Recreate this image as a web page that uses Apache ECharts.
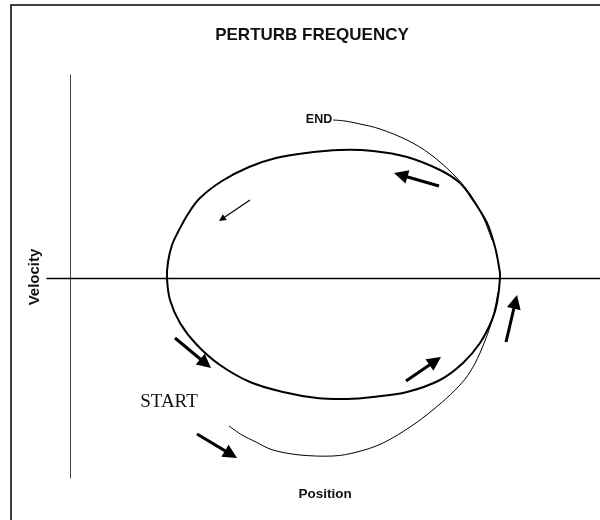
<!DOCTYPE html>
<html>
<head>
<meta charset="utf-8">
<title>Perturb Frequency</title>
<script src="https://cdn.jsdelivr.net/npm/echarts@6/dist/echarts.min.js"></script>
<style>
  html, body { margin: 0; padding: 0; background: #fff; }
  #main { width: 600px; height: 520px; }
</style>
</head>
<body>
<div id="main"></div>
<script>
// phase plane data, [position, velocity]
// closed orbit (drawn as a closed smooth curve, so no repeated last point)
var orbit = [
  [43.0, 0], [42.9, 1.1], [42.5, 3.1], [41.7, 5.5], [40.3, 7.8], [39.0, 9.5],
  [37.0, 10.8], [33.7, 12.1], [30.3, 12.7], [27.0, 12.8], [23.6, 12.5], [20.6, 12.0],
  [17.9, 11.1], [15.2, 9.7], [13.0, 8.0], [11.8, 6.4], [10.8, 4.6], [10.2, 3.3],
  [9.8, 1.6], [9.7, 0], [10.0, -2.2], [11.0, -4.5], [12.7, -6.7], [15.0, -8.7],
  [18.0, -10.4], [21.3, -11.4], [24.7, -12.0], [27.7, -12.1], [30.3, -11.9], [33.7, -11.4],
  [37.0, -10.2], [39.3, -8.5], [41.0, -6.5], [42.2, -4.2], [42.7, -2.5]
];
var endPath = [
  [26.3, 15.8], [27.5, 15.7], [29.0, 15.4], [31.0, 14.9], [33.7, 13.8], [36.0, 12.4],
  [38.3, 10.4], [40.0, 8.4], [41.3, 6.1], [42.2, 3.8]
];
var startPath = [
  [15.9, -14.8], [17.2, -15.7], [18.6, -16.4], [20.3, -17.2], [23.0, -17.7], [26.3, -17.8],
  [28.7, -17.4], [31.3, -16.5], [34.3, -14.7], [37.0, -12.6], [38.9, -10.8], [40.0, -9.4],
  [41.0, -7.5], [42.0, -4.9], [42.5, -3.0], [42.8, -1.4]
];
// arrows: [tail, tip]
var bigArrows = [
  [[36.9, 9.2], [32.4, 10.5]],
  [[10.5, -6.0], [14.1, -9.0]],
  [[33.6, -10.3], [37.1, -7.9]],
  [[43.6, -6.4], [44.7, -1.7]],
  [[12.7, -15.6], [16.7, -18.0]]
];
var smallArrows = [
  [[18.0, 7.8], [14.9, 5.7]]
];

var BIG_HEAD = 14, SMALL_HEAD = 7;

// pull the end back so the triangle tip lands on the tip point (1 unit = 10px)
function arrowData(list, head) {
  return list.map(function (a) {
    var dx = a[1][0] - a[0][0], dy = a[1][1] - a[0][1];
    var len = Math.sqrt(dx * dx + dy * dy);
    var k = head / 2 / 10 / len;
    return { coords: [a[0], [a[1][0] - dx * k, a[1][1] - dy * k]] };
  });
}

// catmull-rom through the pixel points -> svg path
function splinePath(pts, closed) {
  var n = pts.length;
  function at(i) {
    if (closed) return pts[(i + n) % n];
    return pts[Math.max(0, Math.min(n - 1, i))];
  }
  var d = 'M' + pts[0][0] + ' ' + pts[0][1];
  var segs = closed ? n : n - 1;
  for (var i = 0; i < segs; i++) {
    var p0 = at(i - 1), p1 = at(i), p2 = at(i + 1), p3 = at(i + 2);
    var c1x = p1[0] + (p2[0] - p0[0]) / 6, c1y = p1[1] + (p2[1] - p0[1]) / 6;
    var c2x = p2[0] - (p3[0] - p1[0]) / 6, c2y = p2[1] - (p3[1] - p1[1]) / 6;
    d += ' C' + c1x + ' ' + c1y + ' ' + c2x + ' ' + c2y + ' ' + p2[0] + ' ' + p2[1];
  }
  return closed ? d + ' Z' : d;
}

// smooth curve through the points, placed with the grid's own scales
function curve(points, closed, width) {
  return {
    type: 'custom', coordinateSystem: 'cartesian2d', silent: true,
    data: [[0, 0]],
    renderItem: function (params, api) {
      var pts = points.map(function (p) { return api.coord(p); });
      return {
        type: 'path',
        shape: { pathData: splinePath(pts, closed) },
        style: { fill: 'none', stroke: '#000', lineWidth: width }
      };
    }
  };
}

var myChart = echarts.init(document.getElementById('main'));

var option = {
  animation: false,
  backgroundColor: '#fff',
  grid: { left: 47, right: 0, top: 75, bottom: 42 },
  xAxis: {
    type: 'value', min: -2.3, max: 53,
    axisLine: { onZero: true, lineStyle: { color: '#000', width: 1.3 } },
    axisTick: { show: false }, axisLabel: { show: false }, splitLine: { show: false }
  },
  yAxis: {
    type: 'value', min: -20, max: 20.3,
    axisLine: { show: true, onZero: true, lineStyle: { color: '#444', width: 1 } },
    axisTick: { show: false }, axisLabel: { show: false }, splitLine: { show: false }
  },
  graphic: [
    { type: 'rect', silent: true, shape: { x: 11, y: 5, width: 620, height: 540 },
      style: { fill: 'none', stroke: '#000', lineWidth: 1.5 } },
    { type: 'text', x: 312, y: 35, style: { text: 'PERTURB FREQUENCY', fill: '#111',
      font: 'bold 17px "Liberation Sans", Arial, sans-serif', textAlign: 'center', textVerticalAlign: 'middle' } },
    { type: 'text', x: 35, y: 277, rotation: Math.PI / 2, style: { text: 'Velocity', fill: '#111',
      font: 'bold 15px "Liberation Sans", Arial, sans-serif', textAlign: 'center', textVerticalAlign: 'middle' } },
    { type: 'text', x: 325, y: 494, style: { text: 'Position', fill: '#111',
      font: 'bold 13.5px "Liberation Sans", Arial, sans-serif', textAlign: 'center', textVerticalAlign: 'middle' } },
    { type: 'text', x: 319, y: 120, style: { text: 'END', fill: '#111',
      font: 'bold 12.5px "Liberation Sans", Arial, sans-serif', textAlign: 'center', textVerticalAlign: 'middle' } },
    { type: 'text', x: 169, y: 402, style: { text: 'START', fill: '#111',
      font: '19px "Liberation Serif", "Times New Roman", serif', textAlign: 'center', textVerticalAlign: 'middle' } }
  ],
  series: [
    curve(orbit, true, 2),
    curve(endPath, false, 1),
    curve(startPath, false, 1),
    { type: 'lines', coordinateSystem: 'cartesian2d', silent: true,
      symbol: ['none', 'triangle'], symbolSize: BIG_HEAD,
      lineStyle: { color: '#000', width: 3, opacity: 1, curveness: 0 },
      data: arrowData(bigArrows, BIG_HEAD) },
    { type: 'lines', coordinateSystem: 'cartesian2d', silent: true,
      symbol: ['none', 'triangle'], symbolSize: SMALL_HEAD,
      lineStyle: { color: '#000', width: 1.2, opacity: 1, curveness: 0 },
      data: arrowData(smallArrows, SMALL_HEAD) }
  ]
};

myChart.setOption(option);
</script>
</body>
</html>
